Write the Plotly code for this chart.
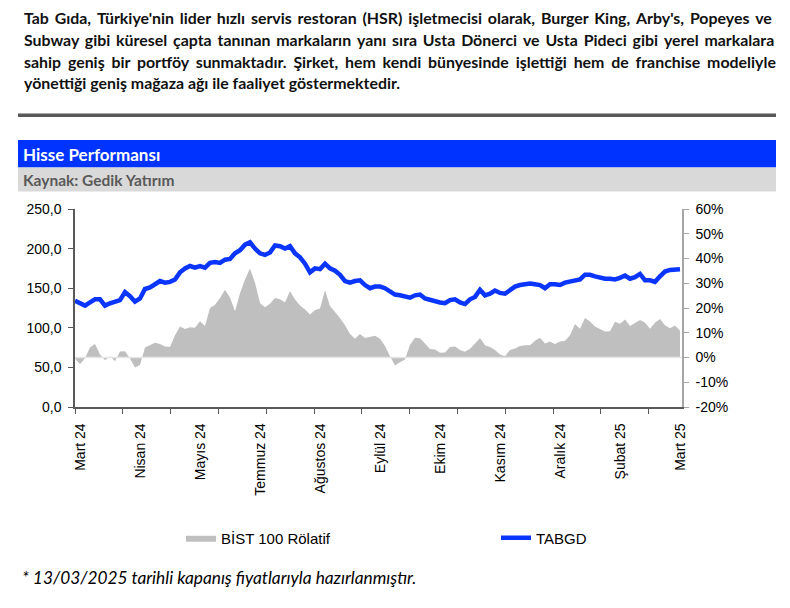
import plotly.graph_objects as go

# ---------------- data ----------------
tabgd = [134, 131, 128, 132, 136, 136, 128, 131, 133, 135,
         145, 140, 133, 137, 149, 151, 155, 159, 157, 158,
         161, 170, 175, 178, 176, 178, 176, 182, 183, 182,
         186, 187, 194, 198, 205, 208, 200, 194, 192, 195,
         204, 203, 200, 203, 194, 189, 181, 170, 175, 174,
         181, 175, 172, 167, 159, 157, 159, 160, 154, 150,
         152, 152, 150, 146, 142, 141, 139, 138, 141, 142,
         137, 135, 134, 132, 131, 135, 136, 132, 130, 136,
         139, 148, 141, 143, 147, 144, 143, 148, 152, 154,
         155, 156, 155, 154, 150, 155, 155, 154, 157, 158,
         160, 161, 167, 167, 165, 163, 162, 162, 161, 163,
         166, 162, 164, 168, 160, 160, 158, 165, 171, 173,
         173.5, 174]

bist_relative = [-0.4, -2.7, -0.3, 4.0, 5.5, 1.2, -1.1, 0.5, -1.5, 2.4,
                 2.5, -0.4, -4.0, -3.0, 4.0, 5.0, 6.0, 5.5, 4.4, 4.2,
                 9.0, 12.5, 11.5, 12.2, 12.0, 14.6, 12.7, 20.0, 21.3, 24.0,
                 27.4, 24.2, 18.7, 26.0, 31.5, 36.0, 30.2, 22.0, 20.3, 21.7,
                 24.0, 23.5, 22.2, 26.8, 23.4, 21.0, 19.4, 17.4, 19.2, 19.8,
                 27.2, 20.8, 18.5, 16.0, 13.0, 9.5, 7.6, 9.5, 7.9, 8.5,
                 8.8, 7.6, 4.6, 0.5, -3.2, -1.9, -0.8, 5.2, 8.0, 7.8,
                 5.5, 3.4, 3.2, 1.9, 2.0, 4.2, 4.4, 3.0, 2.3, 3.5,
                 5.7, 7.9, 5.0, 4.2, 3.0, 1.2, 0.5, 3.0, 3.6, 4.6,
                 5.0, 5.0, 6.8, 8.0, 5.7, 6.5, 5.5, 6.5, 6.8, 9.0,
                 13.5, 11.6, 16.0, 14.5, 12.5, 11.6, 10.5, 10.6, 14.4, 13.6,
                 15.4, 12.7, 14.0, 15.2, 14.0, 11.6, 14.0, 15.6, 13.0, 11.8,
                 12.9, 10.8]

x_labels = ["Mart 24", "Nisan 24", "Mayıs 24", "Temmuz 24", "Ağustos 24", "Eylül 24",
            "Ekim 24", "Kasım 24", "Aralık 24", "Şubat 25", "Mart 25"]
left_ticks = [0, 50, 100, 150, 200, 250]
left_labels = ["0,0", "50,0", "100,0", "150,0", "200,0", "250,0"]
right_ticks = [-20, -10, 0, 10, 20, 30, 40, 50, 60]
right_labels = ["-20%", "-10%", "0%", "10%", "20%", "30%", "40%", "50%", "60%"]

paragraph = [
    "Tab Gıda, Türkiye'nin lider hızlı servis restoran (HSR) işletmecisi olarak, Burger King, Arby's, Popeyes ve",
    "Subway gibi küresel çapta tanınan markaların yanı sıra Usta Dönerci ve Usta Pideci gibi yerel markalara",
    "sahip geniş bir portföy sunmaktadır. Şirket, hem kendi bünyesinde işlettiği hem de franchise modeliyle",
    "yönettiği geniş mağaza ağı ile faaliyet göstermektedir.",
]
# extra hair spaces per word gap to imitate the justified paragraph
justify_extra = [2, 2, 3, 0]

# ---------------- layout helpers ----------------
# the page body has an 8px margin, so the figure is drawn 8px smaller and all
# positions below are given in page pixels
OFF = 8
W, H = 790 - OFF, 608 - OFF
L, R, T, B = 75, 682, 209, 407          # plot area in page pixels
def px(x):
    return (x - L) / (R - L)
def py(y):
    return (B - y) / (B - T)

n = len(tabgd)
xs = list(range(n))
label_pos = [1 + 12 * k for k in range(len(x_labels))]
tick_pos = [round(k * 9.56, 2) for k in range(13)]

ARIAL = "Liberation Sans, Arial, sans-serif"
TXT = "Lato, Liberation Sans, sans-serif"

fig = go.Figure()
fig.add_trace(go.Scatter(
    x=xs, y=bist_relative, name="BİST 100 Rölatif", yaxis="y", legend="legend",
    mode="lines", line=dict(width=0, color="#BFBFBF"),
    fill="tozeroy", fillcolor="#BFBFBF", hoverinfo="skip"))
fig.add_trace(go.Scatter(
    x=xs, y=tabgd, name="TABGD", yaxis="y2", legend="legend2",
    mode="lines", line=dict(width=4.5, color="#0A35FF")))

leg_common = dict(orientation="h", y=py(538), xanchor="left", yanchor="middle",
                  itemwidth=30, font=dict(family=ARIAL, size=15, color="#000000"),
                  bgcolor="rgba(0,0,0,0)")

fig.update_layout(
    width=W, height=H,
    margin=dict(l=L - OFF, r=W - (R - OFF), t=T - OFF, b=H - (B - OFF), pad=0),
    paper_bgcolor="white", plot_bgcolor="white",
    font=dict(family=ARIAL, size=14, color="#000000"),
    xaxis=dict(range=[0, n - 0.6], showgrid=False, zeroline=False,
               showline=True, linecolor="#595959", linewidth=1.5,
               tickmode="array", tickvals=label_pos, ticktext=x_labels,
               tickangle=-90, ticks="", ticklabelstandoff=9,
               tickfont=dict(family=ARIAL, size=14, color="#000000"),
               minor=dict(tickmode="array", tickvals=tick_pos, ticks="outside",
                          ticklen=5, tickwidth=1.2, tickcolor="#595959", showgrid=False)),
    yaxis=dict(side="right", range=[-20, 60], showgrid=False, zeroline=False,
               showline=True, linecolor="#A6A6A6", linewidth=1.5,
               tickmode="array", tickvals=right_ticks, ticktext=right_labels,
               ticks="outside", ticklen=5, tickcolor="#A6A6A6", tickwidth=1.2,
               ticklabelstandoff=4),
    yaxis2=dict(side="left", overlaying="y", range=[0, 250], showgrid=False, zeroline=False,
                showline=True, linecolor="#595959", linewidth=1.5,
                tickmode="array", tickvals=left_ticks, ticktext=left_labels,
                ticks="outside", ticklen=5, tickcolor="#595959", tickwidth=1.2,
                ticklabelstandoff=4),
    legend=dict(x=px(181), **leg_common),
    legend2=dict(x=px(496), **leg_common),
    showlegend=True,
)

shapes = [
    dict(type="rect", xref="paper", yref="paper", x0=px(18), x1=px(776), y0=py(113.5), y1=py(117),
         fillcolor="#595959", line=dict(width=0), layer="above"),
    dict(type="rect", xref="paper", yref="paper", x0=px(18), x1=px(776), y0=py(140), y1=py(167.5),
         fillcolor="#0033FF", line=dict(width=0), layer="above"),
    dict(type="rect", xref="paper", yref="paper", x0=px(18), x1=px(776), y0=py(167.5), y1=py(191.5),
         fillcolor="#D9D9D9", line=dict(width=0), layer="above"),
    dict(type="line", xref="paper", yref="y", x0=0, x1=1, y0=0, y1=0,
         line=dict(color="#E6E6E6", width=1.5), layer="above"),
]
fig.update_layout(shapes=shapes)

line_y = [17.5, 39.5, 61, 82.5]
annotations = []
for i, line in enumerate(paragraph):
    sep = " " + "\u200a" * justify_extra[i]
    text = sep.join(line.split(" "))
    annotations.append(dict(text="<b>" + text + "</b>", xref="paper", yref="paper",
                            x=px(22), y=py(line_y[i]), xanchor="left", yanchor="middle",
                            showarrow=False, font=dict(family=TXT, size=15.9, color="#111111")))
annotations.append(dict(text="<b>Hisse Performansı</b>", xref="paper", yref="paper",
                        x=px(21), y=py(154), xanchor="left", yanchor="middle", showarrow=False,
                        font=dict(family=TXT, size=17, color="#FFFFFF")))
annotations.append(dict(text="<b>Kaynak: Gedik Yatırım</b>", xref="paper", yref="paper",
                        x=px(21), y=py(180), xanchor="left", yanchor="middle", showarrow=False,
                        font=dict(family=TXT, size=15.5, color="#595959")))
annotations.append(dict(text="<i>* 13/03/2025 tarihli kapanış fiyatlarıyla hazırlanmıştır.</i>",
                        xref="paper", yref="paper", x=px(20), y=py(577), xanchor="left",
                        yanchor="middle", showarrow=False,
                        font=dict(family=TXT, size=17.3, color="#000000")))
fig.update_layout(annotations=annotations)

fig.write_html("out.html")
